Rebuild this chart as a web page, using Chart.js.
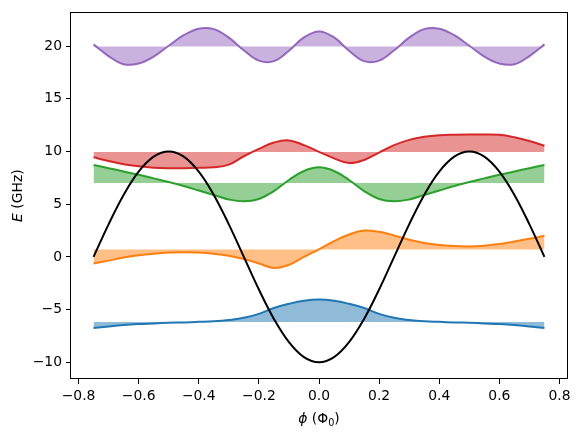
<!DOCTYPE html>
<html>
<head>
<meta charset="utf-8">
<script src="https://cdn.jsdelivr.net/npm/chart.js@4.4.0/dist/chart.umd.min.js"></script>
<style>
  html, body { margin: 0; background: #fff; }
</style>
</head>
<body>
<canvas id="chart" width="580" height="436"></canvas>
<script>
const phi = [-0.75, -0.7, -0.65, -0.6, -0.55, -0.5, -0.45, -0.4, -0.35, -0.3, -0.25,
  -0.2, -0.15, -0.1, -0.05, 0, 0.05, 0.1, 0.15, 0.2, 0.25,
  0.3, 0.35, 0.4, 0.45, 0.5, 0.55, 0.6, 0.65, 0.7, 0.75];

const potential = [0, 3.09, 5.88, 8.09, 9.51, 10, 9.51, 8.09, 5.88, 3.09, 0,
  -3.09, -5.88, -8.09, -9.51, -10, -9.51, -8.09, -5.88, -3.09, 0,
  3.09, 5.88, 8.09, 9.51, 10, 9.51, 8.09, 5.88, 3.09, 0];

// energy levels (offsets of each wavefunction)
const levels = [-6.18, 0.7, 7.0, 9.95, 19.95];

const wave0 = [-6.74, -6.59, -6.46, -6.37, -6.31, -6.25, -6.21, -6.16, -6.1, -5.98, -5.78,
  -5.4, -4.85, -4.45, -4.16, -4.05, -4.16, -4.45, -4.85, -5.4, -5.78,
  -5.98, -6.1, -6.16, -6.21, -6.25, -6.31, -6.37, -6.46, -6.59, -6.74];

const wave1 = [-0.63, -0.35, -0.06, 0.16, 0.31, 0.41, 0.44, 0.41, 0.31, 0.12, -0.2,
  -0.62, -1.05, -0.75, 0.0, 0.72, 1.5, 2.13, 2.5, 2.38, 2.04,
  1.63, 1.32, 1.13, 1.03, 1.0, 1.07, 1.22, 1.47, 1.72, 2.0];

const wave2 = [8.72, 8.42, 8.1, 7.8, 7.45, 7.1, 6.72, 6.3, 5.88, 5.45, 5.27,
  5.5, 6.25, 7.3, 8.15, 8.5, 8.15, 7.3, 6.25, 5.5, 5.27,
  5.45, 5.88, 6.3, 6.72, 7.1, 7.45, 7.8, 8.1, 8.42, 8.72];

const wave3 = [9.45, 9.1, 8.8, 8.6, 8.47, 8.42, 8.42, 8.45, 8.5, 8.75, 9.55,
  10.25, 10.85, 11.05, 10.6, 9.97, 9.35, 8.9, 9.2, 9.9, 10.6,
  11.1, 11.4, 11.55, 11.6, 11.62, 11.62, 11.58, 11.35, 11.0, 10.54];

const wave4 = [20.16, 19.05, 18.28, 18.34, 19.0, 20.03, 21.03, 21.65, 21.61, 20.8, 19.6,
  18.62, 18.57, 19.56, 20.82, 21.39, 20.82, 19.56, 18.57, 18.62, 19.6,
  20.8, 21.61, 21.65, 21.03, 20.03, 19.0, 18.34, 18.28, 19.05, 20.16];

const waves = [wave0, wave1, wave2, wave3, wave4];
const lineColors = ['#1f77b4', '#ff7f0e', '#2ca02c', '#d62728', '#9467bd'];
const fillColors = ['rgba(31,119,180,0.5)', 'rgba(255,127,14,0.5)', 'rgba(44,160,44,0.5)',
  'rgba(214,39,40,0.5)', 'rgba(148,103,189,0.5)'];

const xTicks = [-0.8, -0.6, -0.4, -0.2, 0, 0.2, 0.4, 0.6, 0.8];
const yTicks = [-10, -5, 0, 5, 10, 15, 20];

const FONT = '"DejaVu Sans", sans-serif';

function toPoints(vals) {
  return phi.map((x, i) => ({ x: x, y: vals[i] }));
}

const datasets = [{
  label: 'potential',
  data: toPoints(potential),
  borderColor: '#000000',
  borderWidth: 2,
  fill: false,
  tension: 0.4,
  pointRadius: 0
}];

waves.forEach((w, i) => {
  datasets.push({
    label: 'psi' + i,
    data: toPoints(w),
    borderColor: lineColors[i],
    backgroundColor: fillColors[i],
    borderWidth: 2,
    fill: { value: levels[i] },
    tension: 0.4,
    pointRadius: 0
  });
});

// frame round the plot area plus the axis titles (mixed italic / subscript)
const framePlugin = {
  id: 'frame',
  afterDraw(chart) {
    const ctx = chart.ctx;
    const a = chart.chartArea;
    ctx.save();
    ctx.strokeStyle = '#000';
    ctx.lineWidth = 1;
    ctx.strokeRect(Math.round(a.left) - 0.5, Math.round(a.top) + 0.5,
      Math.round(a.right - a.left) + 1, Math.round(a.bottom - a.top) - 1);

    ctx.fillStyle = '#000';
    ctx.textBaseline = 'alphabetic';

    // y title: E (GHz)
    ctx.save();
    ctx.translate(22, (a.top + a.bottom) / 2);
    ctx.rotate(-Math.PI / 2);
    const fi = 'italic 13.9px ' + FONT, fn = '13.9px ' + FONT;
    ctx.font = fi; const w1 = ctx.measureText('E').width;
    ctx.font = fn; const w2 = ctx.measureText(' (GHz)').width;
    let x = -(w1 + w2) / 2;
    ctx.font = fi; ctx.fillText('E', x, 0);
    ctx.font = fn; ctx.fillText(' (GHz)', x + w1, 0);
    ctx.restore();

    // x title: phi (Phi_0)
    const fs = '9.7px ' + FONT;
    ctx.font = fi; const p1 = ctx.measureText('\u03d5').width;
    ctx.font = fn; const p2 = ctx.measureText(' (\u03a6').width;
    ctx.font = fs; const p3 = ctx.measureText('0').width;
    ctx.font = fn; const p4 = ctx.measureText(')').width;
    let xx = (a.left + a.right) / 2 - (p1 + p2 + p3 + p4) / 2;
    const by = 423;
    ctx.font = fi; ctx.fillText('\u03d5', xx, by); xx += p1;
    ctx.font = fn; ctx.fillText(' (\u03a6', xx, by); xx += p2;
    ctx.font = fs; ctx.fillText('0', xx, by + 3); xx += p3;
    ctx.font = fn; ctx.fillText(')', xx, by);
    ctx.restore();
  }
};

new Chart(document.getElementById('chart'), {
  type: 'line',
  data: { datasets: datasets },
  options: {
    responsive: false,
    devicePixelRatio: 1,
    animation: false,
    layout: { padding: { left: 0, right: 13, top: 9, bottom: 0 } },
    plugins: {
      legend: { display: false },
      tooltip: { enabled: false },
      title: { display: false }
    },
    scales: {
      x: {
        type: 'linear',
        min: -0.825,
        max: 0.825,
        afterFit: (s) => { s.height = 57; },
        afterBuildTicks: (s) => { s.ticks = xTicks.map(v => ({ value: v })); },
        border: { display: false },
        grid: { drawOnChartArea: false, drawTicks: true, tickLength: 5, color: '#000', lineWidth: 1 },
        ticks: {
          color: '#000',
          padding: 4,
          maxRotation: 0,
          autoSkip: false,
          font: { family: FONT, size: 13.9 },
          callback: (v) => v.toFixed(1).replace('-', '\u2212')
        }
      },
      y: {
        type: 'linear',
        min: -11.58,
        max: 23.2,
        afterFit: (s) => { s.width = 71; },
        afterBuildTicks: (s) => { s.ticks = yTicks.map(v => ({ value: v })); },
        border: { display: false },
        grid: { drawOnChartArea: false, drawTicks: true, tickLength: 5, color: '#000', lineWidth: 1 },
        ticks: {
          color: '#000',
          padding: 4,
          autoSkip: false,
          font: { family: FONT, size: 13.9 },
          callback: (v) => String(v).replace('-', '\u2212')
        }
      }
    }
  },
  plugins: [framePlugin]
});
</script>
</body>
</html>
